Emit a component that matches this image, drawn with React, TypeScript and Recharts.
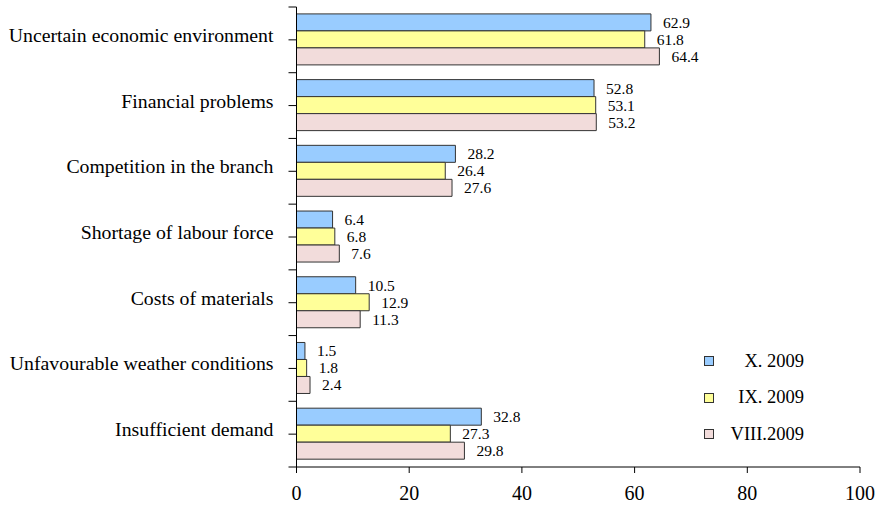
import { BarChart, Bar, XAxis, YAxis, Legend, LabelList } from 'recharts';

const categories = [
  'Uncertain economic environment',
  'Financial problems',
  'Competition in the branch',
  'Shortage of labour force',
  'Costs of materials',
  'Unfavourable weather conditions',
  'Insufficient demand',
];
const oct2009 = [62.9, 52.8, 28.2, 6.4, 10.5, 1.5, 32.8];
const sep2009 = [61.8, 53.1, 26.4, 6.8, 12.9, 1.8, 27.3];
const aug2009 = [64.4, 53.2, 27.6, 7.6, 11.3, 2.4, 29.8];
const seriesNames = ['X. 2009', 'IX. 2009', 'VIII.2009'];
const xTicks = [0, 20, 40, 60, 80, 100];

const FONT = '"Liberation Serif", "Times New Roman", serif';
const W = 880;
const H = 506;
const MARGIN = { top: 7, right: 20, left: 0, bottom: 0 };
const X_AXIS_H = 39;
const TICK_SIZE = 8;
const TICK_MARGIN = 15;

const data = categories.map((name, i) => ({
  name,
  oct: oct2009[i],
  sep: sep2009[i],
  aug: aug2009[i],
}));

// height of one category band, used for the boundary tick marks
const band = (H - MARGIN.top - MARGIN.bottom - X_AXIS_H) / categories.length;

function CategoryTick(props: any) {
  const { x, y, payload, index } = props;
  const ax = x + TICK_MARGIN;
  return (
    <g>
      <line x1={ax} x2={ax + TICK_SIZE} y1={y} y2={y} stroke="#000" />
      <line x1={ax} x2={ax + TICK_SIZE} y1={y - band / 2} y2={y - band / 2} stroke="#000" />
      {index === categories.length - 1 && (
        <line x1={ax} x2={ax + TICK_SIZE} y1={y + band / 2} y2={y + band / 2} stroke="#000" />
      )}
      <text x={x} y={y - 5} dy="0.355em" textAnchor="end" fill="#000" fontSize={19.8} fontFamily={FONT}>
        {payload.value}
      </text>
    </g>
  );
}

function LegendBox(props: any) {
  const items = [...(props.payload || [])].sort(
    (a: any, b: any) => seriesNames.indexOf(a.value) - seriesNames.indexOf(b.value)
  );
  return (
    <div style={{ width: 100, fontFamily: FONT, fontSize: 18.5, color: '#000' }}>
      {items.map((it: any) => (
        <div key={it.value} style={{ display: 'flex', alignItems: 'center', height: 36.5 }}>
          <span
            style={{
              width: 8,
              height: 8,
              background: it.color,
              border: '1px solid #333',
              display: 'inline-block',
            }}
          />
          <span style={{ flex: 1, textAlign: 'right' }}>{it.value}</span>
        </div>
      ))}
    </div>
  );
}

const labelFmt = (v: any) => Number(v).toFixed(1);

export default function App() {
  return (
    <div style={{ position: 'absolute', left: 0, top: 0, width: W, height: H, background: '#fff' }}>
      <BarChart
        width={W}
        height={H}
        data={data}
        layout="vertical"
        margin={MARGIN}
        barCategoryGap="10.5%"
        barGap={0}
      >
        <XAxis
          type="number"
          domain={[0, 100]}
          ticks={xTicks}
          height={X_AXIS_H}
          axisLine={{ stroke: '#000' }}
          tickLine={{ stroke: '#000' }}
          tickSize={6}
          tickMargin={13}
          tick={{ fill: '#000', fontSize: 20, fontFamily: FONT }}
        />
        <XAxis
          xAxisId="top"
          orientation="top"
          type="number"
          domain={[0, 100]}
          height={0}
          tick={false}
          tickLine={false}
          axisLine={{ stroke: '#9a9a9a' }}
        />
        <YAxis
          type="category"
          dataKey="name"
          width={296.5}
          interval={0}
          axisLine={{ stroke: '#000' }}
          tickLine={false}
          tickSize={TICK_SIZE}
          tickMargin={TICK_MARGIN}
          tick={<CategoryTick />}
        />
        <YAxis
          yAxisId="right"
          orientation="right"
          type="category"
          dataKey="name"
          width={0}
          tick={false}
          tickLine={false}
          axisLine={{ stroke: '#9a9a9a' }}
        />
        <Legend
          content={<LegendBox />}
          wrapperStyle={{
            position: 'absolute',
            left: 704,
            top: 343,
            bottom: 'auto',
            width: 0,
            height: 0,
            overflow: 'visible',
          }}
        />
        <Bar dataKey="oct" name={seriesNames[0]} fill="#99CCFF" stroke="#333" strokeWidth={1} isAnimationActive={false}>
          <LabelList dataKey="oct" position="right" offset={12} formatter={labelFmt} fill="#000" fontSize={15.5} fontFamily={FONT} />
        </Bar>
        <Bar dataKey="sep" name={seriesNames[1]} fill="#FFFF99" stroke="#333" strokeWidth={1} isAnimationActive={false}>
          <LabelList dataKey="sep" position="right" offset={12} formatter={labelFmt} fill="#000" fontSize={15.5} fontFamily={FONT} />
        </Bar>
        <Bar dataKey="aug" name={seriesNames[2]} fill="#F2DCDB" stroke="#333" strokeWidth={1} isAnimationActive={false}>
          <LabelList dataKey="aug" position="right" offset={12} formatter={labelFmt} fill="#000" fontSize={15.5} fontFamily={FONT} />
        </Bar>
      </BarChart>
    </div>
  );
}
